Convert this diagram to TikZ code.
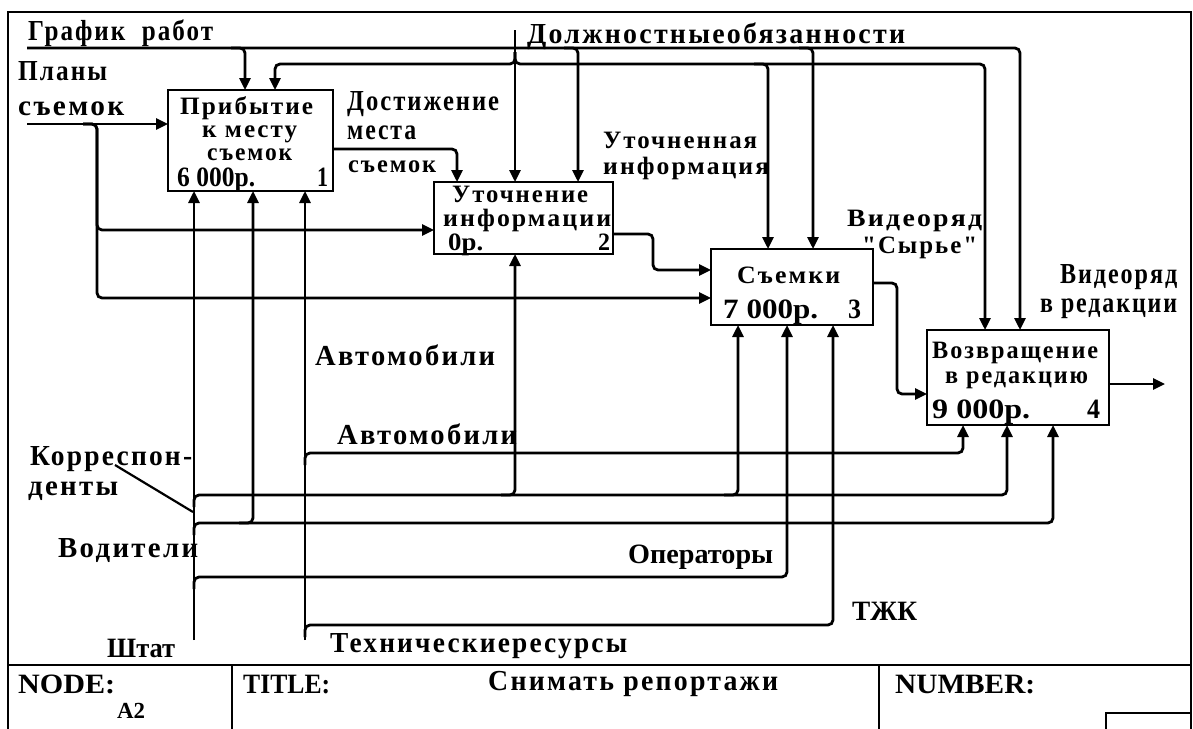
\documentclass[tikz,border=0pt]{standalone}
\usepackage{fontspec}
\usepackage{graphicx}
\setmainfont{Liberation Serif}
\newfontfamily\lab{Liberation Serif}[LetterSpace=8]
\newfontfamily\plain{Liberation Serif}
\newcommand\fw[2]{\resizebox{#1pt}{\height}{#2}}
\usetikzlibrary{arrows.meta}
\begin{document}
\begin{tikzpicture}[x=1pt,y=-1pt,
  conn/.style={line width=2.8pt, rounded corners=5pt},
  arr/.style={conn, -{Triangle[length=12pt,width=11pt]}},
  box/.style={draw, line width=2.8pt, inner sep=0pt, outer sep=0pt},
  lbl/.style={inner sep=0pt, anchor=base west, font=\lab\bfseries\fontsize{29}{29}\selectfont},
  slbl/.style={lbl, font=\lab\bfseries\fontsize{25}{25}\selectfont},
  btl/.style={inner sep=0pt, anchor=base west, font=\lab\bfseries\fontsize{25}{25}\selectfont},
  cost/.style={inner sep=0pt, anchor=base west, font=\plain\bfseries\fontsize{28}{28}\selectfont},
  tb/.style={inner sep=0pt, anchor=base west, font=\plain\bfseries\fontsize{28}{28}\selectfont}]
\useasboundingbox (0,0) rectangle (1193,728);
% frame
\draw[line width=2.8pt] (8,740) -- (8,12) -- (1191,12) -- (1191,740);
\draw[line width=2.8pt] (8,665) -- (1191,665);
\draw[line width=2.8pt] (232,665) -- (232,740);
\draw[line width=2.8pt] (879,665) -- (879,740);
\draw[line width=2.8pt] (1106,740) -- (1106,713) -- (1191,713);
% boxes
\node[box, minimum width=165pt, minimum height=101pt] (b1) at (250.5,140.5) {};
\node[box, minimum width=179pt, minimum height=72pt] (b2) at (523.5,218) {};
\node[box, minimum width=162pt, minimum height=76pt] (b3) at (792,287) {};
\node[box, minimum width=182pt, minimum height=95pt] (b4) at (1018,377.5) {};
% box texts
\node[btl] (b1a) at (180,114) {\fw{133}{Прибытие}};
\node[btl] (b1b) at (202,137) {\fw{95}{к месту}};
\node[btl] (b1c) at (207,160) {\fw{85}{съемок}};
\node[cost] (b1d) at (177,186) {\fw{78}{6 000р.}};
\node[cost] (b1e) at (317,186) {\fw{11}{1}};
\node[btl] (b2a) at (452,202) {\fw{136}{Уточнение}};
\node[btl] (b2b) at (443,226) {\fw{168}{информации}};
\node[cost, font=\plain\bfseries\fontsize{25}{25}\selectfont] (b2d) at (448,250) {\fw{35}{0р.}};
\node[cost, font=\plain\bfseries\fontsize{25}{25}\selectfont] (b2e) at (598,250) {\fw{12}{2}};
\node[btl] (b3a) at (737,283) {\fw{103}{Съемки}};
\node[cost] (b3d) at (723,318) {\fw{95}{7 000р.}};
\node[cost] (b3e) at (848,318) {\fw{13}{3}};
\node[btl] (b4a) at (932,358) {\fw{166}{Возвращение}};
\node[btl] (b4b) at (945,383) {\fw{143}{в редакцию}};
\node[cost] (b4d) at (932,418) {\fw{98}{9 000р.}};
\node[cost] (b4e) at (1087,418) {\fw{13}{4}};
% coordinates
\coordinate (gS) at (27,48);
\coordinate (g1) at (245,48);
\coordinate (g2) at (578,48);
\coordinate (g3) at (813,48);
\coordinate (g4) at (1020,48);
\coordinate (dS) at (515,30);
\coordinate (dJ) at (515,64);
\coordinate (d1) at (275,64);
\coordinate (d3) at (768,64);
\coordinate (d4) at (985,64);
\coordinate (pS) at (27,124);
\coordinate (pJ) at (97,124);
\coordinate (p2) at (97,230);
\coordinate (p3) at (97,298);
\coordinate (o1) at (457,149);
\coordinate (o2a) at (653,234);
\coordinate (o2b) at (653,270);
\coordinate (o3a) at (897,283);
\coordinate (o3b) at (897,394);
\coordinate (out4) at (1165,384);
\coordinate (sS) at (194,640);
\coordinate (kJ) at (194,495);
\coordinate (k2) at (515,495);
\coordinate (k3) at (738,495);
\coordinate (k4) at (1007,495);
\coordinate (vJ) at (194,523);
\coordinate (v1) at (253,523);
\coordinate (v4) at (1053,523);
\coordinate (opJ) at (194,577);
\coordinate (op3) at (787,577);
\coordinate (tS) at (305,640);
\coordinate (tJ) at (305,625);
\coordinate (t3) at (833,625);
\coordinate (aJ) at (305,453);
\coordinate (a4) at (963,453);
\coordinate (kl1) at (115,465);
\coordinate (kl2) at (193,512);
% controls
\draw[arr] (gS) -- (g4) -- (g4 |- b4.north);
\draw[arr] ([xshift=-14pt]g1) -- (g1) -- (g1 |- b1.north);
\draw[arr] ([xshift=-14pt]g2) -- (g2) -- (g2 |- b2.north);
\draw[arr] ([xshift=-14pt]g3) -- (g3) -- (g3 |- b3.north);
\draw[arr] (dS) -- (dS |- b2.north);
\draw[arr] ([yshift=12pt]dJ) -- (dJ) -- (d1) -- (d1 |- b1.north);
\draw[arr] ([yshift=12pt]dJ) -- (dJ) -- (d4) -- (d4 |- b4.north);
\draw[arr] ([xshift=-14pt]d3) -- (d3) -- (d3 |- b3.north);
% inputs / outputs
\draw[arr] (pS) -- (pS -| b1.west);
\draw[arr] ([xshift=-14pt]pJ) -- (pJ) -- (p2) -- (p2 -| b2.west);
\draw[arr] ([xshift=-14pt]pJ) -- (pJ) -- (p3) -- (p3 -| b3.west);
\draw[arr] (b1.east |- o1) -- (o1) -- (o1 |- b2.north);
\draw[arr] (b2.east |- o2a) -- (o2a) -- (o2b) -- (o2b -| b3.west);
\draw[arr] (b3.east |- o3a) -- (o3a) -- (o3b) -- (o3b -| b4.west);
\draw[arr] (b4.east |- out4) -- (out4);
% mechanisms
\draw[arr] (sS) -- (sS |- b1.south);
\draw[arr] ([yshift=-12pt]kJ) -- (kJ) -- (k4) -- (k4 |- b4.south);
\draw[arr] ([xshift=-14pt]k2) -- (k2) -- (k2 |- b2.south);
\draw[arr] ([xshift=-14pt]k3) -- (k3) -- (k3 |- b3.south);
\draw[arr] ([yshift=-12pt]vJ) -- (vJ) -- (v4) -- (v4 |- b4.south);
\draw[arr] ([xshift=-14pt]v1) -- (v1) -- (v1 |- b1.south);
\draw[arr] ([yshift=-12pt]opJ) -- (opJ) -- (op3) -- (op3 |- b3.south);
\draw[arr] (tS) -- (tS |- b1.south);
\draw[arr] ([yshift=-12pt]tJ) -- (tJ) -- (t3) -- (t3 |- b3.south);
\draw[arr] ([yshift=-12pt]aJ) -- (aJ) -- (a4) -- (a4 |- b4.south);
\draw[line width=2.2pt] (kl1) -- (kl2);
% labels
\node[lbl] (lG) at (28,40) {\fw{185}{График\ \ работ}};
\node[lbl] (lD) at (527,43) {\fw{378}{Должностныеобязанности}};
\node[lbl] (lP1) at (18,80) {\fw{89}{Планы}};
\node[lbl] (lP2) at (18,115) {\fw{106}{съемок}};
\node[lbl] (lA1) at (347,110) {\fw{152}{Достижение}};
\node[lbl] (lA2) at (347,139) {\fw{69}{места}};
\node[slbl] (lA3) at (348,172) {\fw{88}{съемок}};
\node[slbl] (lU1) at (603,148) {\fw{154}{Уточненная}};
\node[slbl] (lU2) at (603,174) {\fw{166}{информация}};
\node[slbl] (lV1) at (847,226) {\fw{135}{Видеоряд}};
\node[slbl] (lV2) at (862,253) {\fw{115}{"Сырье"}};
\node[lbl] (lR1) at (1060,283) {\fw{117}{Видеоряд}};
\node[lbl] (lR2) at (1040,312) {\fw{137}{в редакции}};
\node[lbl] (lM1) at (315,365) {\fw{180}{Автомобили}};
\node[lbl] (lM2) at (337,444) {\fw{180}{Автомобили}};
\node[lbl] (lK1) at (30,465) {\fw{162}{Корреспон-}};
\node[lbl] (lK2) at (28,495) {\fw{90}{денты}};
\node[lbl] (lW) at (58,557) {\fw{140}{Водители}};
\node[tb] (lO) at (628,563) {\fw{145}{Операторы}};
\node[tb] (lT) at (852,620) {\fw{65}{ТЖК}};
\node[tb] (lS) at (107,657) {\fw{68}{Штат}};
\node[lbl] (lTR) at (330,652) {\fw{297}{Техническиересурсы}};
% title block
\node[tb] (tn) at (18,693) {\fw{97}{NODE:}};
\node[tb, font=\plain\bfseries\fontsize{23}{23}\selectfont] (tn2) at (117,718) {\fw{28}{A2}};
\node[tb] (tt) at (243,693) {\fw{87}{TITLE:}};
\node[lbl] (tt2) at (488,690) {\fw{290}{Снимать репортажи}};
\node[tb] (tu) at (895,693) {\fw{140}{NUMBER:}};
\end{tikzpicture}
\end{document}
